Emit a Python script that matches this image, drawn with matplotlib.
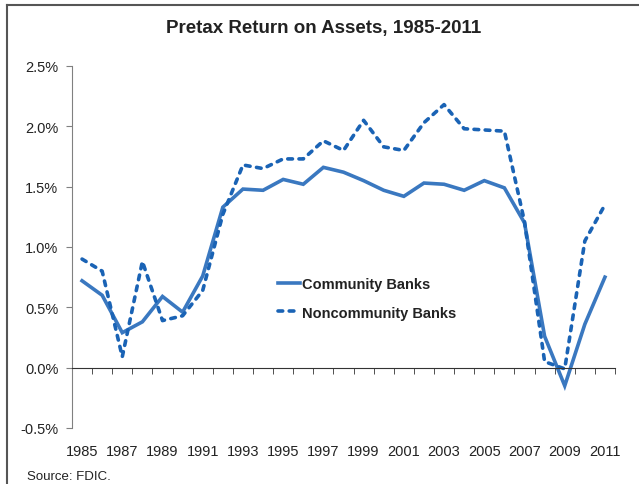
import matplotlib
matplotlib.use("Agg")
import matplotlib.pyplot as plt
from matplotlib.lines import Line2D
from matplotlib.ticker import FuncFormatter, FixedLocator

plt.rcParams['font.family'] = ['Liberation Sans', 'DejaVu Sans']

# data (percent)
years = list(range(1985, 2012))
community = [0.72, 0.60, 0.29, 0.38, 0.59, 0.46, 0.76, 1.33, 1.48, 1.47, 1.56, 1.52, 1.66,
             1.62, 1.55, 1.47, 1.42, 1.53, 1.52, 1.47, 1.55, 1.49, 1.20, 0.26, -0.15, 0.36, 0.75]
noncommunity = [0.90, 0.80, 0.09, 0.88, 0.39, 0.43, 0.64, 1.27, 1.68, 1.65, 1.73, 1.73, 1.88,
                1.80, 2.05, 1.83, 1.80, 2.03, 2.18, 1.98, 1.97, 1.96, 1.21, 0.05, -0.01, 1.05, 1.35]
tick_years = [str(y) for y in years[::2]]

txt = '#222222'
fig = plt.figure(figsize=(6.39, 4.85), dpi=100)
ax = fig.add_axes([72/639, 56/485, 543/639, 362/485])

x = list(range(len(years)))
ax.plot(x, community, color='#3a78c0', lw=2.6, solid_joinstyle='miter', label='Community Banks')
ax.plot(x, noncommunity, color='#1a63b5', lw=2.6, ls=(0, (1.3, 1.8)), dash_capstyle='round',
        label='Noncommunity Banks')

ax.set_xlim(-0.5, len(years) - 0.5)
ax.set_ylim(-0.5, 2.5)
ax.set_yticks([-0.5, 0, 0.5, 1.0, 1.5, 2.0, 2.5])
ax.yaxis.set_major_formatter(FuncFormatter(lambda v, p: f"{v:.1f}%"))

ax.spines['top'].set_visible(False)
ax.spines['right'].set_visible(False)
ax.spines['left'].set_color('#808080')
ax.spines['bottom'].set_position(('data', 0))
ax.spines['bottom'].set_color('#333333')

ax.set_xticks(x[::2])
ax.set_xticklabels(tick_years)
ax.xaxis.set_minor_locator(FixedLocator([i - 0.5 for i in range(len(years) + 1)]))
ax.tick_params(axis='x', which='major', length=0, pad=55, labelsize=10.5, labelcolor=txt)
ax.tick_params(axis='x', which='minor', length=4, color='#333333', direction='out')
ax.tick_params(axis='y', length=4, color='#808080', pad=5.8, labelsize=10.5, labelcolor=txt)

leg = ax.legend(loc='upper left', bbox_to_anchor=(278/639, (485-278)/485),
                bbox_transform=fig.transFigure, frameon=False, borderpad=0, borderaxespad=0,
                handlelength=1.5, handletextpad=0.15, labelspacing=1.0,
                prop={'weight': 'bold', 'size': 10.5})
for t in leg.get_texts():
    t.set_color(txt)

fig.text(324/639, 1 - 28/485, 'Pretax Return on Assets, 1985-2011', ha='center', va='center',
         fontsize=13.5, fontweight='bold', color=txt)
fig.text(27/639, 1 - 477/485, 'Source: FDIC.', ha='left', va='center', fontsize=9.5, color=txt)

# outer frame
fig.add_artist(Line2D([7/639, 7/639], [0, 1 - 6/485], transform=fig.transFigure, color='#555555', lw=1.5))
fig.add_artist(Line2D([7/639, 1], [1 - 6/485, 1 - 6/485], transform=fig.transFigure, color='#555555', lw=1.5))

fig.savefig('out.png', dpi=100)
